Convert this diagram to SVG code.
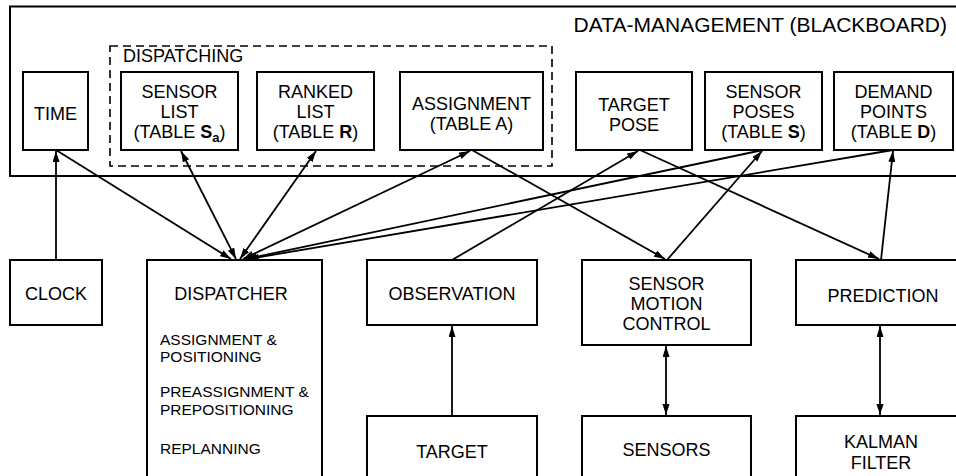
<svg xmlns="http://www.w3.org/2000/svg" width="956" height="476" viewBox="0 0 956 476">
<style>
.box{fill:#fff;stroke:#000;stroke-width:2}
.frame{fill:none;stroke:#000;stroke-width:2}
.dash{fill:none;stroke:#000;stroke-width:1.6;stroke-dasharray:8 5}
text{font-family:"Liberation Sans",Arial,Helvetica,sans-serif;fill:#000}
.t{font-size:18px;text-anchor:middle}
.s{font-size:15.5px}
.title{font-size:21px;text-anchor:end}
.b{font-weight:bold}
.c{fill:none;stroke:#000;stroke-width:1.8}
</style>
<defs>
<marker id="ah" markerUnits="userSpaceOnUse" markerWidth="12" markerHeight="8" refX="11" refY="3.5" orient="auto-start-reverse">
<path d="M0,0 L11,3.5 L0,7 z" fill="#000"/>
</marker>
</defs>
<g id="blackboard">
<rect class="frame" x="10" y="6.5" width="960" height="169.5"/>
<text class="title" x="947" y="32">DATA-MANAGEMENT (BLACKBOARD)</text>
</g>
<g id="dispatching">
<rect class="dash" x="110" y="46" width="442" height="120"/>
<text x="123" y="62" style="font-size:18px">DISPATCHING</text>
</g>
<g id="time">
<rect class="box" x="23" y="72" width="65" height="78"/>
<text class="t" x="55.5" y="120">TIME</text>
</g>
<g id="sensorlist">
<rect class="box" x="121" y="72" width="117" height="78"/>
<text class="t" x="179.5" y="98">SENSOR</text>
<text class="t" x="179.5" y="118">LIST</text>
<text class="t" x="179.5" y="138">(TABLE <tspan class="b">S</tspan><tspan class="b" font-size="13px" dy="4">a</tspan><tspan dy="-4">)</tspan></text>
</g>
<g id="rankedlist">
<rect class="box" x="257" y="72" width="117" height="78"/>
<text class="t" x="315.5" y="98">RANKED</text>
<text class="t" x="315.5" y="118">LIST</text>
<text class="t" x="315.5" y="138">(TABLE <tspan class="b">R</tspan>)</text>
</g>
<g id="assignment">
<rect class="box" x="400" y="72" width="143" height="78"/>
<text class="t" x="471.5" y="110">ASSIGNMENT</text>
<text class="t" x="471.5" y="130">(TABLE A)</text>
</g>
<g id="targetpose">
<rect class="box" x="576" y="72" width="116" height="78"/>
<text class="t" x="634" y="111">TARGET</text>
<text class="t" x="634" y="131">POSE</text>
</g>
<g id="sensorposes">
<rect class="box" x="705" y="72" width="117" height="78"/>
<text class="t" x="763.5" y="98">SENSOR</text>
<text class="t" x="763.5" y="118">POSES</text>
<text class="t" x="763.5" y="138">(TABLE <tspan class="b">S</tspan>)</text>
</g>
<g id="demandpoints">
<rect class="box" x="834" y="72" width="119" height="78"/>
<text class="t" x="893.5" y="98">DEMAND</text>
<text class="t" x="893.5" y="118">POINTS</text>
<text class="t" x="893.5" y="138">(TABLE <tspan class="b">D</tspan>)</text>
</g>
<g id="clock">
<rect class="box" x="10" y="260" width="92" height="65"/>
<text class="t" x="56" y="300">CLOCK</text>
</g>
<g id="dispatcher">
<rect class="box" x="147" y="260" width="175" height="230"/>
<text class="t" x="231" y="300">DISPATCHER</text>
<text class="s" x="160" y="345">ASSIGNMENT &amp;</text>
<text class="s" x="160" y="362">POSITIONING</text>
<text class="s" x="160" y="397">PREASSIGNMENT &amp;</text>
<text class="s" x="160" y="415">PREPOSITIONING</text>
<text class="s" x="160" y="454">REPLANNING</text>
</g>
<g id="observation">
<rect class="box" x="367" y="260" width="170" height="65"/>
<text class="t" x="452" y="300">OBSERVATION</text>
</g>
<g id="target">
<rect class="box" x="367" y="416" width="170" height="80"/>
<text class="t" x="452" y="458">TARGET</text>
</g>
<g id="sensormotioncontrol">
<rect class="box" x="582" y="260" width="169" height="85"/>
<text class="t" x="666.5" y="290">SENSOR</text>
<text class="t" x="666.5" y="310">MOTION</text>
<text class="t" x="666.5" y="330">CONTROL</text>
</g>
<g id="sensors">
<rect class="box" x="582" y="416" width="169" height="80"/>
<text class="t" x="666.5" y="456">SENSORS</text>
</g>
<g id="prediction">
<rect class="box" x="796" y="260" width="170" height="65"/>
<text class="t" x="883" y="302">PREDICTION</text>
</g>
<g id="kalmanfilter">
<rect class="box" x="796" y="416" width="170" height="80"/>
<text class="t" x="881" y="448">KALMAN</text>
<text class="t" x="881" y="469">FILTER</text>
</g>
<g id="connectors">
<line class="c" x1="56" y1="260" x2="56" y2="151" marker-end="url(#ah)"/>
<line class="c" x1="56" y1="150" x2="231" y2="259" marker-end="url(#ah)"/>
<line class="c" x1="181" y1="151" x2="236" y2="259" marker-start="url(#ah)" marker-end="url(#ah)"/>
<line class="c" x1="316" y1="151" x2="240" y2="259" marker-start="url(#ah)" marker-end="url(#ah)"/>
<line class="c" x1="470" y1="151" x2="243" y2="259" marker-start="url(#ah)" marker-end="url(#ah)"/>
<line class="c" x1="763" y1="150" x2="246" y2="259" marker-end="url(#ah)"/>
<line class="c" x1="893" y1="150" x2="248" y2="259" marker-end="url(#ah)"/>
<line class="c" x1="472" y1="150" x2="665" y2="259" marker-end="url(#ah)"/>
<line class="c" x1="452" y1="260" x2="638" y2="151" marker-end="url(#ah)"/>
<line class="c" x1="640" y1="150" x2="879" y2="259" marker-end="url(#ah)"/>
<line class="c" x1="667" y1="260" x2="762" y2="151" marker-end="url(#ah)"/>
<line class="c" x1="881" y1="260" x2="893" y2="151" marker-end="url(#ah)"/>
<line class="c" x1="452" y1="416" x2="452" y2="326" marker-end="url(#ah)"/>
<line class="c" x1="666" y1="346" x2="666" y2="415" marker-start="url(#ah)" marker-end="url(#ah)"/>
<line class="c" x1="880" y1="326" x2="880" y2="415" marker-start="url(#ah)" marker-end="url(#ah)"/>
</g>
</svg>
